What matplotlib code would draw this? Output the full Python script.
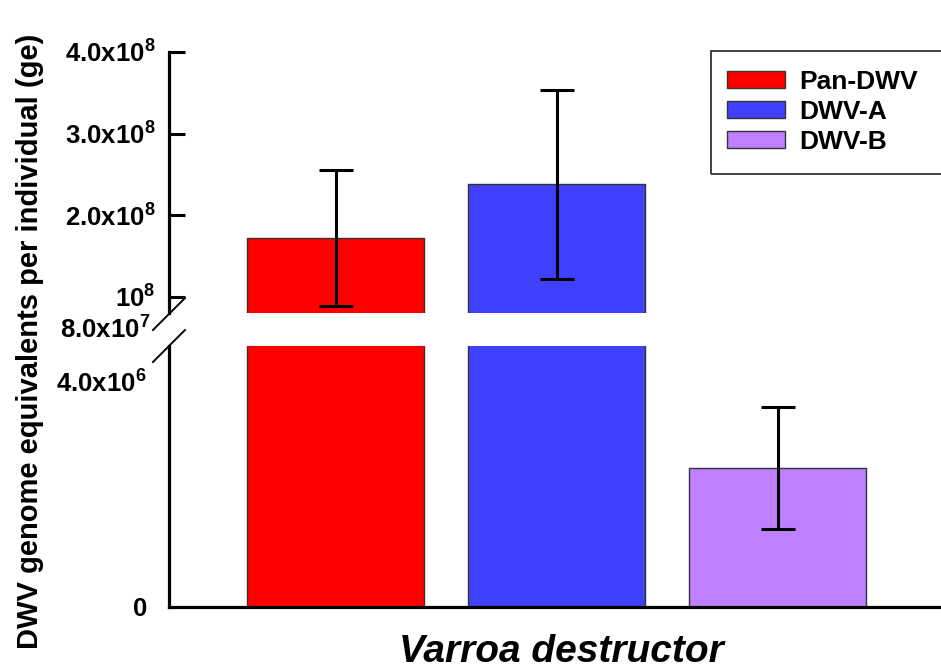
import matplotlib
matplotlib.use("Agg")
import matplotlib.pyplot as plt
from matplotlib.patches import Patch, Rectangle
from matplotlib.lines import Line2D

plt.rcParams['font.family'] = ['Liberation Sans', 'DejaVu Sans']
plt.rcParams['font.weight'] = 'bold'
plt.rcParams['mathtext.fontset'] = 'custom'
plt.rcParams['mathtext.rm'] = 'Liberation Sans:bold'
plt.rcParams['mathtext.bf'] = 'Liberation Sans:bold'
plt.rcParams['mathtext.default'] = 'rm'

# data
groups = ['Pan-DWV', 'DWV-A', 'DWV-B']
means = [1.72e8, 2.38e8, 2.47e6]
errs = [0.83e8, 1.16e8, 1.08e6]
colors = ['#FF0000', '#4040FF', '#BF80FF']

upper_ticks = [1e8, 2e8, 3e8, 4e8]
upper_labels = ['10$^8$', '2.0x10$^8$', '3.0x10$^8$', '4.0x10$^8$']
lower_ticks = [0, 4e6]
lower_labels = ['0', '4.0x10$^6$']
break_label = '8.0x10$^7$'

W, H = 941, 670
fig = plt.figure(figsize=(W / 100, H / 100), dpi=100)

# axes in pixel layout
ax_top = fig.add_axes([169 / W, 1 - 313 / H, (941 - 169) / W, (313 - 52) / H])
ax_bot = fig.add_axes([169 / W, 1 - 607 / H, (941 - 169) / W, (607 - 346) / H])

x = range(len(groups))
for ax in (ax_top, ax_bot):
    ax.bar(x, means, width=0.8, color=colors, edgecolor='#333333', linewidth=1.0, zorder=2)
    ax.errorbar(x, means, yerr=errs, fmt='none', ecolor='black', elinewidth=2.2,
                capsize=12, capthick=2.2, zorder=3)
    ax.set_xlim(-0.7534, 2.7398)
    ax.set_xticks([])
    ax.spines['right'].set_visible(False)
    ax.spines['top'].set_visible(False)
    ax.spines['left'].set_linewidth(2.3)
    ax.spines['bottom'].set_linewidth(2.3)
    ax.patch.set_alpha(0)

ax_top.set_ylim(8e7, 4e8)
ax_top.spines['bottom'].set_visible(False)
ax_top.set_yticks(upper_ticks)
ax_top.set_yticklabels(upper_labels)
ax_top.tick_params(axis='y', direction='in', length=11.5, width=2.2, pad=10, labelsize=18.5)

ax_bot.set_ylim(0, 4.64e6)
ax_bot.set_yticks(lower_ticks)
ax_bot.set_yticklabels(lower_labels)
ax_bot.tick_params(axis='y', length=0, pad=16, labelsize=18.5)

for lab in ax_top.get_yticklabels() + ax_bot.get_yticklabels():
    lab.set_fontweight('bold')

# label at the break
fig.text(150 / W, 1 - 330 / H, break_label, ha='right', va='center',
         fontsize=18.5, fontweight='bold')

# break marks
fig.add_artist(Line2D([153 / W, 185 / W], [1 - 330 / H, 1 - 298 / H],
                      transform=fig.transFigure, color='black', lw=1.4))
fig.add_artist(Line2D([153 / W, 185 / W], [1 - 362 / H, 1 - 330 / H],
                      transform=fig.transFigure, color='black', lw=1.4))

# axis titles
fig.text(30 / W, 1 - 341 / H, 'DWV genome equivalents per individual (ge)',
         rotation=90, ha='center', va='center', fontsize=21, fontweight='bold')
fig.text(561 / W, 1 - 652 / H, 'Varroa destructor', ha='center', va='center',
         fontsize=28, fontweight='bold', style='italic')

# legend
handles = [Patch(facecolor=c, edgecolor='#333333', linewidth=1.0) for c in colors]
fig.legend(handles, groups, loc='upper left', bbox_to_anchor=(727 / W, 1 - 70 / H),
           frameon=False, prop={'size': 19, 'weight': 'bold'},
           handlelength=2.2, handleheight=0.6, handletextpad=0.55, labelspacing=0.22,
           borderpad=0, borderaxespad=0)
fig.add_artist(Rectangle((711 / W, 1 - 174 / H), (960 - 711) / W, (174 - 51) / H,
                         transform=fig.transFigure, fill=False, lw=1.2, edgecolor='#222222'))

fig.savefig('out.png', dpi=100)
